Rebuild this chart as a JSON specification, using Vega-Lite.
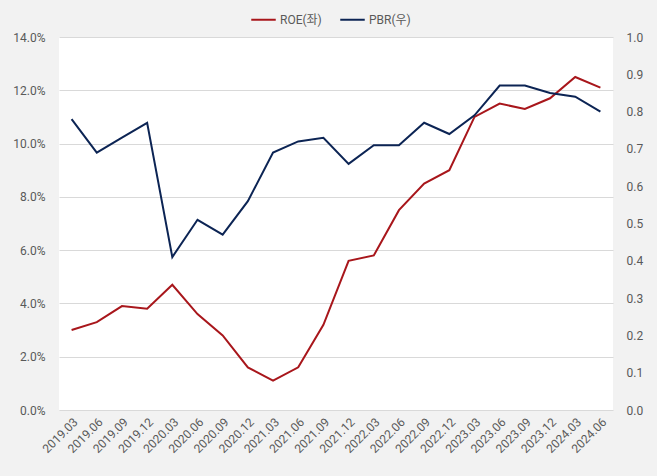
{
  "$schema": "https://vega.github.io/schema/vega-lite/v6.json",
  "autosize": "none",
  "width": 554,
  "height": 373,
  "padding": {"left": 59, "top": 37, "right": 44, "bottom": 66},
  "background": "#f2f2f2",
  "config": {
    "view": {"fill": "#ffffff", "stroke": null},
    "font": "Roboto, 'Noto Sans CJK KR'",
    "axis": {"labelColor": "#595959", "labelFontSize": 12, "domain": false, "ticks": false, "titleColor": "#595959"},
    "legend": {"labelColor": "#595959", "labelFontSize": 12}
  },
  "data": {
    "values": [
      {"q": "2019.03", "roe": 3.0, "pbr": 0.78},
      {"q": "2019.06", "roe": 3.3, "pbr": 0.69},
      {"q": "2019.09", "roe": 3.9, "pbr": 0.73},
      {"q": "2019.12", "roe": 3.8, "pbr": 0.77},
      {"q": "2020.03", "roe": 4.7, "pbr": 0.41},
      {"q": "2020.06", "roe": 3.6, "pbr": 0.51},
      {"q": "2020.09", "roe": 2.8, "pbr": 0.47},
      {"q": "2020.12", "roe": 1.6, "pbr": 0.56},
      {"q": "2021.03", "roe": 1.1, "pbr": 0.69},
      {"q": "2021.06", "roe": 1.6, "pbr": 0.72},
      {"q": "2021.09", "roe": 3.2, "pbr": 0.73},
      {"q": "2021.12", "roe": 5.6, "pbr": 0.66},
      {"q": "2022.03", "roe": 5.8, "pbr": 0.71},
      {"q": "2022.06", "roe": 7.5, "pbr": 0.71},
      {"q": "2022.09", "roe": 8.5, "pbr": 0.77},
      {"q": "2022.12", "roe": 9.0, "pbr": 0.74},
      {"q": "2023.03", "roe": 11.0, "pbr": 0.79},
      {"q": "2023.06", "roe": 11.5, "pbr": 0.87},
      {"q": "2023.09", "roe": 11.3, "pbr": 0.87},
      {"q": "2023.12", "roe": 11.7, "pbr": 0.85},
      {"q": "2024.03", "roe": 12.5, "pbr": 0.84},
      {"q": "2024.06", "roe": 12.1, "pbr": 0.80}
    ]
  },
  "encoding": {
    "x": {
      "field": "q",
      "type": "ordinal",
      "sort": null,
      "scale": {"type": "point", "padding": 0.5},
      "axis": {"title": null, "labelAngle": -45, "labelPadding": 6, "grid": false}
    },
    "color": {
      "type": "nominal",
      "scale": {"domain": ["ROE(좌)", "PBR(우)"], "range": ["#a8161b", "#0c2454"]},
      "legend": {
        "title": null,
        "orient": "none",
        "direction": "horizontal",
        "legendX": 191,
        "legendY": -31,
        "symbolType": "stroke",
        "symbolSize": 600,
        "symbolStrokeWidth": 2,
        "labelOffset": 3,
        "columnPadding": 14
      }
    }
  },
  "layer": [
    {
      "mark": {"type": "line", "strokeWidth": 2},
      "encoding": {
        "y": {
          "field": "roe",
          "type": "quantitative",
          "scale": {"domain": [0, 14], "nice": false},
          "axis": {
            "title": null,
            "values": [0, 2, 4, 6, 8, 10, 12, 14],
            "labelExpr": "format(datum.value, '.1f') + '%'",
            "grid": true,
            "gridColor": "#d9d9d9",
            "labelPadding": 14
          }
        },
        "color": {"datum": "ROE(좌)"}
      }
    },
    {
      "mark": {"type": "line", "strokeWidth": 2},
      "encoding": {
        "y": {
          "field": "pbr",
          "type": "quantitative",
          "scale": {"domain": [0, 1], "nice": false},
          "axis": {
            "title": null,
            "orient": "right",
            "values": [0, 0.1, 0.2, 0.3, 0.4, 0.5, 0.6, 0.7, 0.8, 0.9, 1.0],
            "format": ".1f",
            "grid": false,
            "labelPadding": 13
          }
        },
        "color": {"datum": "PBR(우)"}
      }
    }
  ],
  "resolve": {"scale": {"y": "independent"}}
}
